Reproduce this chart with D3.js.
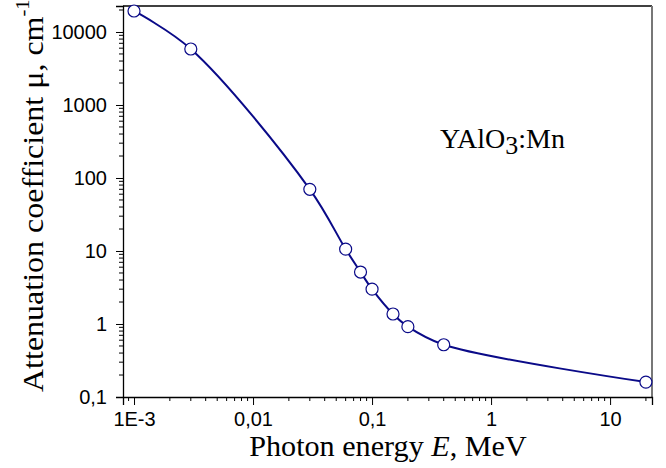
<!DOCTYPE html>
<html>
<head>
<meta charset="utf-8">
<script src="https://cdn.jsdelivr.net/npm/d3@7"></script>
<style>
  body { margin: 0; background: #fff; }
  svg { display: block; }
</style>
</head>
<body>
<main></main>
<script>
// data
const energies = [0.001, 0.003, 0.03, 0.06, 0.08, 0.1, 0.15, 0.2, 0.4, 20];
const mu = [19400, 5850, 70, 10.6, 5.15, 3.0, 1.37, 0.92, 0.52, 0.16];
const xTicks = [0.001, 0.01, 0.1, 1, 10];
const xTickLabels = ['1E-3', '0,01', '0,1', '1', '10'];
const yTicks = [0.1, 1, 10, 100, 1000, 10000];
const yTickLabels = ['0,1', '1', '10', '100', '1000', '10000'];

const width = 666;
const height = 468;
const plotLeft = 123;
const plotRight = 652;
const plotTop = 6;
const plotBottom = 397;
const lineColor = '#0a0a88';

const svg = d3.select('main')
  .append('svg')
  .attr('width', width)
  .attr('height', height);

const xScale = d3.scaleLog()
  .domain([8.08e-4, 22.5])
  .range([plotLeft, plotRight]);

const yScale = d3.scaleLog()
  .domain([0.1, 22700])
  .range([plotBottom, plotTop]);

// minor ticks 2..9 in each decade, inside the domain
function minorTicks(scale) {
  const [lo, hi] = scale.domain();
  const out = [];
  for (let e = Math.floor(Math.log10(lo)); e <= Math.ceil(Math.log10(hi)); e++) {
    for (let m = 2; m <= 9; m++) {
      const v = m * Math.pow(10, e);
      if (v >= lo && v <= hi) out.push(v);
    }
  }
  return out;
}

// frame: top and right in grey
svg.append('line')
  .attr('x1', plotLeft).attr('x2', plotRight)
  .attr('y1', plotTop).attr('y2', plotTop)
  .attr('stroke', '#000').attr('stroke-width', 1.3);
svg.append('line')
  .attr('x1', plotRight).attr('x2', plotRight)
  .attr('y1', plotTop).attr('y2', plotBottom)
  .attr('stroke', '#777').attr('stroke-width', 2);

// x axis
const xAxis = d3.axisBottom(xScale)
  .tickValues(xTicks)
  .tickFormat((d, i) => xTickLabels[i])
  .tickSize(8)
  .tickPadding(7);

const gx = svg.append('g')
  .attr('transform', `translate(0, ${plotBottom})`)
  .call(xAxis);

gx.selectAll('.minor')
  .data(minorTicks(xScale))
  .enter()
  .append('line')
  .attr('class', 'minor')
  .attr('x1', d => xScale(d)).attr('x2', d => xScale(d))
  .attr('y1', 0).attr('y2', 4)
  .attr('stroke', '#000');

// y axis
const yAxis = d3.axisLeft(yScale)
  .tickValues(yTicks)
  .tickFormat((d, i) => yTickLabels[i])
  .tickSize(7)
  .tickPadding(9);

const gy = svg.append('g')
  .attr('transform', `translate(${plotLeft}, 0)`)
  .call(yAxis);

gy.selectAll('.minor')
  .data(minorTicks(yScale))
  .enter()
  .append('line')
  .attr('class', 'minor')
  .attr('x1', 0).attr('x2', -4)
  .attr('y1', d => yScale(d)).attr('y2', d => yScale(d))
  .attr('stroke', '#000');

svg.selectAll('g')
  .attr('font-family', '"Liberation Sans", Arial, sans-serif')
  .attr('font-size', 20);
svg.selectAll('.domain').attr('stroke-width', 1.3);

// fitted curve through points
const line = d3.line()
  .x((d, i) => xScale(energies[i]))
  .y((d, i) => yScale(mu[i]))
  .curve(d3.curveCatmullRom.alpha(0.5));

svg.append('path')
  .attr('d', line(mu))
  .attr('fill', 'none')
  .attr('stroke', lineColor)
  .attr('stroke-width', 2);

svg.selectAll('circle')
  .data(mu)
  .enter()
  .append('circle')
  .attr('cx', (d, i) => xScale(energies[i]))
  .attr('cy', d => yScale(d))
  .attr('r', 6)
  .attr('fill', '#fff')
  .attr('stroke', lineColor)
  .attr('stroke-width', 1.2);

// titles (the original lettering is a little wider than Times)
const serif = '"Liberation Serif", "Times New Roman", serif';

const xTitle = svg.append('text')
  .attr('transform', 'translate(388, 456) scale(1.04, 1)')
  .attr('text-anchor', 'middle')
  .attr('font-family', serif)
  .attr('font-size', 29);
xTitle.append('tspan').text('Photon energy ');
xTitle.append('tspan').attr('font-style', 'italic').text('E');
xTitle.append('tspan').text(', MeV');

const yTitle = svg.append('text')
  .attr('transform', 'translate(43, 392) rotate(-90) scale(1.085, 1)')
  .attr('font-family', serif)
  .attr('font-size', 29.5);
yTitle.append('tspan').text('Attenuation coefficient μ, cm');
yTitle.append('tspan').attr('font-size', 19).attr('dy', -14).text('-1');

const label = svg.append('text')
  .attr('x', 440)
  .attr('y', 148)
  .attr('font-family', serif)
  .attr('font-size', 28);
label.append('tspan').text('YAlO');
label.append('tspan').attr('dy', 6).attr('font-size', 26).text('3');
label.append('tspan').attr('dy', -6).text(':Mn');
</script>
</body>
</html>
